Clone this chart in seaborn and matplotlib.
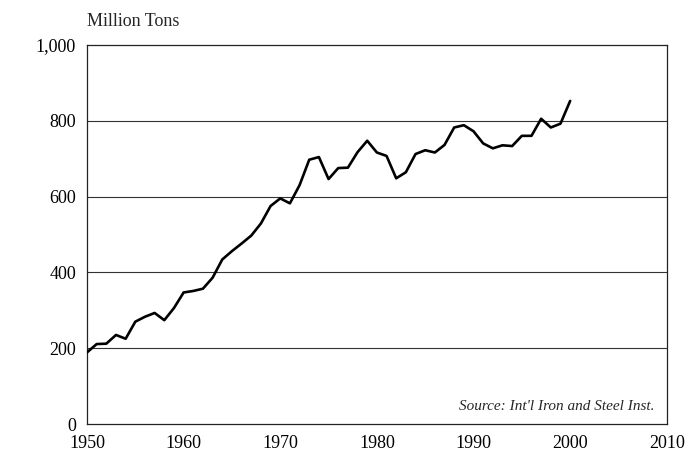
import pandas as pd
import seaborn as sns
import matplotlib.pyplot as plt

years = list(range(1950, 2001))
steel = [189, 211, 212, 235, 225, 270, 283, 293, 274, 306,
         347, 351, 357, 386, 434, 456, 476, 497, 529, 575,
         595, 582, 630, 697, 704, 646, 675, 676, 717, 747,
         716, 707, 648, 664, 712, 722, 716, 736, 782, 788,
         772, 740, 727, 735, 733, 760, 760, 805, 782, 792,
         852]
x_ticks = [1950, 1960, 1970, 1980, 1990, 2000, 2010]
y_ticks = [0, 200, 400, 600, 800, 1000]

df = pd.DataFrame({"year": years, "tons": steel})

sns.set_style("white")
plt.rcParams['font.family'] = ['Liberation Serif', 'DejaVu Serif']

fig = plt.figure(figsize=(6.96, 4.57), dpi=100)
ax = fig.add_axes([0.125, 0.072, 0.833, 0.83])

for v in y_ticks[1:-1]:
    ax.axhline(v, color='#333333', linewidth=0.8, zorder=1)

sns.lineplot(data=df, x="year", y="tons", ax=ax, color='black', linewidth=1.9, zorder=3)

ax.set_xlim(1950, 2010)
ax.set_ylim(0, 1000)
ax.set_xticks(x_ticks)
ax.set_yticks(y_ticks)
ax.set_yticklabels(['0', '200', '400', '600', '800', '1,000'])
ax.tick_params(axis='both', labelsize=13, colors='black', length=3, width=0.8, direction='in')
ax.tick_params(axis='y', length=0, pad=8)
ax.tick_params(axis='x', pad=8)
ax.set_xlabel('')
ax.set_ylabel('')
for s in ax.spines.values():
    s.set_color('#222222')
    s.set_linewidth(0.9)

fig.text(0.125, 0.935, 'Million Tons', fontsize=13, ha='left', va='bottom')
ax.text(0.978, 0.03, "Source: Int'l Iron and Steel Inst.", transform=ax.transAxes,
        fontsize=11, style='italic', ha='right', va='bottom')

fig.savefig('out.png', dpi=100)
